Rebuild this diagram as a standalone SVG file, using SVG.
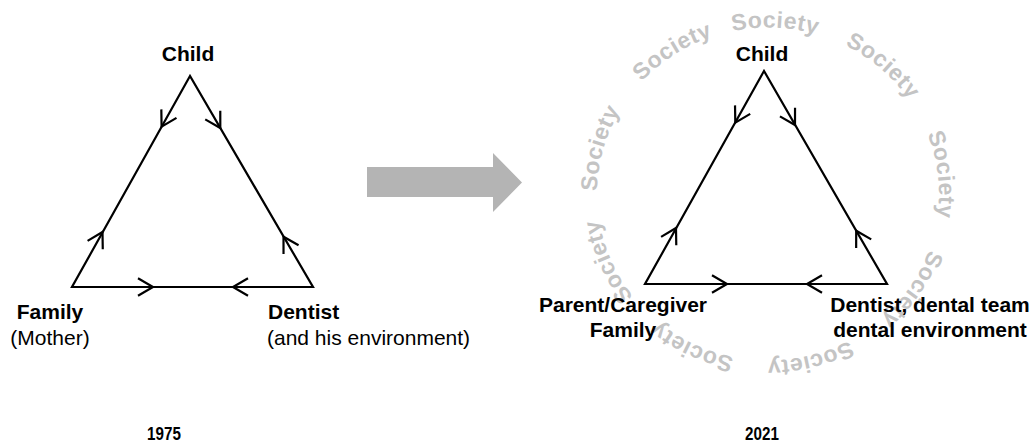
<svg xmlns="http://www.w3.org/2000/svg" xmlns:xlink="http://www.w3.org/1999/xlink" width="1033" height="446" viewBox="0 0 1033 446">
<style>
.edge{fill:none;stroke:#000;stroke-width:2.2;stroke-linejoin:miter}
.chev{fill:none;stroke:#000;stroke-width:2.2;stroke-linecap:butt;stroke-linejoin:miter}
.b{font-family:"Liberation Sans",Arial,sans-serif;font-weight:bold;font-size:21px;fill:#000}
.r{font-family:"Liberation Sans",Arial,sans-serif;font-size:21px;fill:#000}
.soc{font-family:"Liberation Sans",Arial,sans-serif;font-weight:bold;font-size:23px;fill:#c4c4c4;letter-spacing:0.5px}
.yr{font-family:"Liberation Sans",Arial,sans-serif;font-weight:bold;font-size:19px;fill:#000}
</style>
<defs>
<path id="chev" class="chev" d="M-15,-8.7 L0,0 L-15,8.7"/>
<path id="ring" d="M723.74,33.17 A171,166.5 0 1,1 812.26,354.83 A171,166.5 0 1,1 723.74,33.17"/>
</defs>
<rect width="1033" height="446" fill="#fff"/>

<g id="society-ring">
<text class="soc" text-anchor="middle"><textPath xlink:href="#ring" href="#ring" startOffset="4.889%">Society</textPath></text>
<text class="soc" text-anchor="middle"><textPath xlink:href="#ring" href="#ring" startOffset="15.75%">Society</textPath></text>
<text class="soc" text-anchor="middle"><textPath xlink:href="#ring" href="#ring" startOffset="27.417%">Society</textPath></text>
<text class="soc" text-anchor="middle"><textPath xlink:href="#ring" href="#ring" startOffset="38.611%">Society</textPath></text>
<text class="soc" text-anchor="middle"><textPath xlink:href="#ring" href="#ring" startOffset="50.278%">Society</textPath></text>
<text class="soc" text-anchor="middle"><textPath xlink:href="#ring" href="#ring" startOffset="61.472%">Society</textPath></text>
<text class="soc" text-anchor="middle"><textPath xlink:href="#ring" href="#ring" startOffset="72.778%">Society</textPath></text>
<text class="soc" text-anchor="middle"><textPath xlink:href="#ring" href="#ring" startOffset="83.5%">Society</textPath></text>
<text class="soc" text-anchor="middle"><textPath xlink:href="#ring" href="#ring" startOffset="94.917%">Society</textPath></text>
</g>

<g id="connectors">
<!-- 1975 triangle -->
<path class="edge" d="M190,76 L72,287 L313,287 Z"/>
<use href="#chev" xlink:href="#chev" transform="translate(161.6,126.7) rotate(119.2)"/>
<use href="#chev" xlink:href="#chev" transform="translate(102.5,232) rotate(-60.8)"/>
<use href="#chev" xlink:href="#chev" transform="translate(220.3,128) rotate(59.8)"/>
<use href="#chev" xlink:href="#chev" transform="translate(283.5,236.7) rotate(-120.2)"/>
<use href="#chev" xlink:href="#chev" transform="translate(153,287) rotate(0)"/>
<use href="#chev" xlink:href="#chev" transform="translate(233,287) rotate(180)"/>
<!-- 2021 triangle -->
<path class="edge" d="M764,71 L645,284 L887,284 Z"/>
<use href="#chev" xlink:href="#chev" transform="translate(735.3,122.7) rotate(119.2)"/>
<use href="#chev" xlink:href="#chev" transform="translate(676,228) rotate(-60.8)"/>
<use href="#chev" xlink:href="#chev" transform="translate(795,125) rotate(60)"/>
<use href="#chev" xlink:href="#chev" transform="translate(856.2,230.7) rotate(-120)"/>
<use href="#chev" xlink:href="#chev" transform="translate(727,284) rotate(0)"/>
<use href="#chev" xlink:href="#chev" transform="translate(807,284) rotate(180)"/>
</g>

<g id="transition-arrow">
<polygon points="367,167 493,167 493,153 522,182.5 493,212 493,197 367,197" fill="#b4b4b4"/>
</g>

<g id="child-1975"><text class="b" x="188" y="61" text-anchor="middle">Child</text></g>
<g id="family-1975">
<text class="b" x="50" y="319" text-anchor="middle">Family</text>
<text class="r" x="50" y="345" text-anchor="middle">(Mother)</text>
</g>
<g id="dentist-1975">
<text class="b" x="268" y="319">Dentist</text>
<text class="r" x="267" y="345">(and his environment)</text>
</g>

<g id="child-2021"><text class="b" x="762" y="61" text-anchor="middle">Child</text></g>
<g id="family-2021">
<text class="b" x="623" y="312" text-anchor="middle">Parent/Caregiver</text>
<text class="b" x="623" y="337" text-anchor="middle">Family</text>
</g>
<g id="dentist-2021">
<text class="b" x="930" y="312" text-anchor="middle">Dentist, dental team</text>
<text class="b" x="930" y="337" text-anchor="middle">dental environment</text>
</g>

<g id="year-1975"><text class="yr" x="164" y="440" text-anchor="middle" transform="translate(164,0) scale(0.8,1) translate(-164,0)">1975</text></g>
<g id="year-2021"><text class="yr" x="762" y="440" text-anchor="middle" transform="translate(762,0) scale(0.8,1) translate(-762,0)">2021</text></g>
</svg>
